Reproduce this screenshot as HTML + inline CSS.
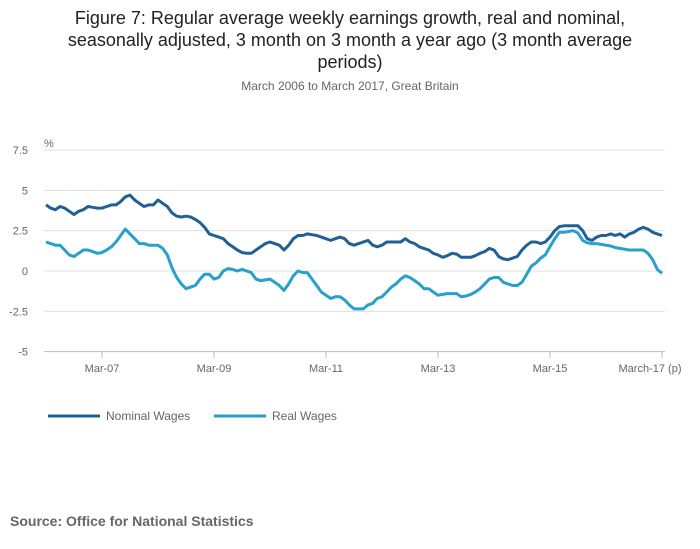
<!DOCTYPE html>
<html><head><meta charset="utf-8"><style>
body{margin:0;background:#fff;font-family:"Liberation Sans",sans-serif;}
svg{display:block}
</style></head><body>
<svg width="700" height="549">
<text x="350" y="24" text-anchor="middle" font-size="18" fill="#222">Figure 7: Regular average weekly earnings growth, real and nominal,</text>
<text x="350" y="46" text-anchor="middle" font-size="18" fill="#222">seasonally adjusted, 3 month on 3 month a year ago (3 month average</text>
<text x="350" y="68" text-anchor="middle" font-size="18" fill="#222">periods)</text>
<text x="350" y="90" text-anchor="middle" font-size="12" fill="#666">March 2006 to March 2017, Great Britain</text>
<text x="44" y="147" font-size="11" fill="#666">%</text>
<g id="grid"></g>
<g id="series"></g>
<g>
<line x1="48" y1="416" x2="100" y2="416" stroke="#206095" stroke-width="3"/>
<text x="106" y="420" font-size="12" fill="#666">Nominal Wages</text>
<line x1="214" y1="416" x2="266" y2="416" stroke="#27a0cc" stroke-width="3"/>
<text x="272" y="420" font-size="12" fill="#666">Real Wages</text>
</g>
<text x="10" y="526" font-size="14" font-weight="bold" fill="#666">Source: Office for National Statistics</text>
</svg>
<script>
const yTicks=[7.5,5,2.5,0,-2.5,-5];
const yTickLabels=["7.5","5","2.5","0","-2.5","-5"];
const xTickIdx=[12,36,60,84,108,132];
const xTickLabels=["Mar-07","Mar-09","Mar-11","Mar-13","Mar-15","March-17 (p)"];
const nominal=[4.1,3.9,3.8,4.0,3.9,3.7,3.5,3.7,3.8,4.0,
3.95,3.9,3.9,4.0,4.1,4.1,4.3,4.6,4.7,4.4,4.2,4.0,
4.1,4.1,4.4,4.2,4.0,3.6,3.4,3.35,3.4,3.35,3.2,3.0,
2.7,2.3,2.2,2.1,2.0,1.7,1.5,1.3,1.15,1.1,1.1,1.3,
1.5,1.7,1.8,1.7,1.6,1.3,1.6,2.0,2.2,2.2,2.3,2.25,
2.2,2.1,2.0,1.9,2.0,2.1,2.0,1.7,1.6,1.7,1.8,1.9,
1.6,1.5,1.6,1.8,1.8,1.8,1.8,2.0,1.8,1.7,1.5,1.4,
1.3,1.1,1.0,0.85,0.95,1.1,1.05,0.85,0.85,0.85,0.95,1.1,
1.2,1.4,1.3,0.9,0.75,0.7,0.8,0.9,1.3,1.6,1.8,1.8,
1.7,1.8,2.1,2.5,2.75,2.8,2.8,2.8,2.8,2.5,2.0,1.9,
2.1,2.2,2.2,2.3,2.2,2.3,2.1,2.3,2.4,2.6,2.7,2.6,
2.4,2.3,2.2];
const real=[1.8,1.7,1.6,1.6,1.3,1.0,0.9,1.1,1.3,1.3,
1.2,1.1,1.15,1.3,1.5,1.8,2.2,2.6,2.3,2.0,1.7,1.7,
1.6,1.6,1.6,1.4,1.0,0.2,-0.4,-0.8,-1.1,-1.0,-0.9,-0.5,
-0.2,-0.2,-0.5,-0.4,0.0,0.15,0.1,0.0,0.1,0.0,-0.1,-0.5,
-0.6,-0.55,-0.5,-0.7,-0.9,-1.2,-0.8,-0.3,0.0,-0.1,-0.1,-0.5,
-0.9,-1.3,-1.5,-1.7,-1.6,-1.6,-1.8,-2.1,-2.35,-2.35,-2.35,-2.1,
-2.0,-1.7,-1.6,-1.3,-1.0,-0.8,-0.5,-0.3,-0.4,-0.6,-0.8,-1.1,
-1.1,-1.3,-1.5,-1.45,-1.4,-1.4,-1.4,-1.6,-1.55,-1.45,-1.3,-1.1,
-0.8,-0.5,-0.4,-0.4,-0.7,-0.8,-0.9,-0.9,-0.7,-0.2,0.3,0.5,
0.8,1.0,1.5,2.0,2.4,2.4,2.45,2.5,2.35,1.9,1.75,1.7,
1.7,1.65,1.6,1.55,1.45,1.4,1.35,1.3,1.3,1.3,1.3,1.1,
0.7,0.1,-0.15];
const NS="http://www.w3.org/2000/svg";
const X0=46,X1=662,N=132;
function xs(i){return X0+(X1-X0)*i/N;}
function ys(v){return 271-v*16.13;}
const grid=document.getElementById('grid');
yTicks.forEach((t,k)=>{
 const l=document.createElementNS(NS,'line');
 l.setAttribute('x1',44);l.setAttribute('x2',665);l.setAttribute('y1',ys(t));l.setAttribute('y2',ys(t));
 l.setAttribute('stroke',t===-5?'#bbb':'#e0e0e0');l.setAttribute('stroke-width',1);
 
 
 grid.appendChild(l);
 const tx=document.createElementNS(NS,'text');
 tx.setAttribute('x',28);tx.setAttribute('y',ys(t)+4);tx.setAttribute('text-anchor','end');
 tx.setAttribute('font-size',11);tx.setAttribute('fill','#666');tx.textContent=yTickLabels[k];
 
 
 grid.appendChild(tx);
});
xTickIdx.forEach((i,k)=>{
 const l=document.createElementNS(NS,'line');
 l.setAttribute('x1',xs(i));l.setAttribute('x2',xs(i));l.setAttribute('y1',352);l.setAttribute('y2',358);
 l.setAttribute('stroke','#bbb');
 
 
 grid.appendChild(l);
 const tx=document.createElementNS(NS,'text');
 tx.setAttribute('x',k===xTickIdx.length-1?xs(i)-12:xs(i));tx.setAttribute('y',372);tx.setAttribute('text-anchor','middle');
 tx.setAttribute('font-size',11);tx.setAttribute('fill','#666');tx.textContent=xTickLabels[k];
 
 
 grid.appendChild(tx);
});
const ser=document.getElementById('series');
[[nominal,'#206095','nominal-wages-line'],[real,'#27a0cc','real-wages-line']].forEach(([d,c,n])=>{
 const p=document.createElementNS(NS,'polyline');
 p.setAttribute('points',d.map((v,i)=>xs(i).toFixed(1)+','+ys(v).toFixed(1)).join(' '));
 p.setAttribute('fill','none');p.setAttribute('stroke',c);p.setAttribute('stroke-width',3);p.setAttribute('stroke-linejoin','round');
 
 
 ser.appendChild(p);
});
</script>
</body></html>
